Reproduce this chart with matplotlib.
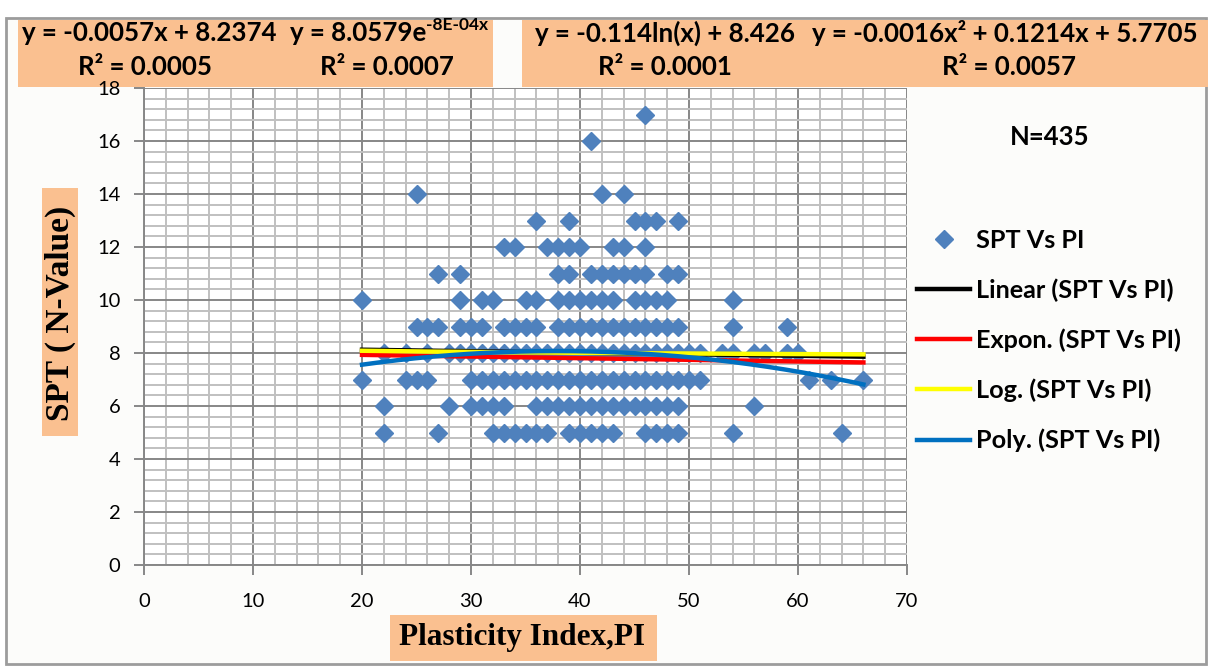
import matplotlib.pyplot as plt
import numpy as np
from matplotlib.patches import Rectangle

plt.rcParams['font.family'] = ['Lato', 'DejaVu Sans']

# plasticity index values of the samples at each SPT N-value
pi_n17 = [46]
pi_n16 = [41]
pi_n14 = [25, 42, 44]
pi_n13 = [36, 39, 45, 46, 47, 49]
pi_n12 = [33, 34, 37, 38, 39, 40, 43, 44, 46]
pi_n11 = [27, 29, 38, 39, 41, 42, 43, 44, 45, 46, 48, 49]
pi_n10 = [20, 29, 31, 32, 35, 36, 38, 39, 40, 41, 42, 43, 45, 46, 47, 48, 54]
pi_n9 = [25, 26, 27, 29, 30, 31, 33, 34, 35, 36, 38, 39, 40, 41, 42, 43, 44,
         45, 46, 47, 48, 49, 54, 59]
pi_n8 = [22, 24, 26, 28, 29, 30, 31, 32, 33, 34, 35, 36, 37, 38, 39, 40, 41,
         42, 43, 44, 45, 46, 47, 48, 49, 50, 51, 53, 54, 56, 57, 59, 60]
pi_n7 = [20, 24, 25, 26, 30, 31, 32, 33, 34, 35, 36, 37, 38, 39, 40, 41, 42,
         43, 44, 45, 46, 47, 48, 49, 50, 51, 61, 63, 66]
pi_n6 = [22, 28, 30, 31, 32, 33, 36, 37, 38, 39, 40, 41, 42, 43, 44, 45, 46,
         47, 48, 49, 56]
pi_n5 = [22, 27, 32, 33, 34, 35, 36, 37, 39, 40, 41, 42, 43, 46, 47, 48, 49,
         54, 64]

spt_levels = [17, 16, 14, 13, 12, 11, 10, 9, 8, 7, 6, 5]
pi_lists = [pi_n17, pi_n16, pi_n14, pi_n13, pi_n12, pi_n11, pi_n10, pi_n9,
            pi_n8, pi_n7, pi_n6, pi_n5]

# excel trend line coefficients
lin_coef = (-0.0057, 8.2374)
exp_coef = (8.0579, -8e-4)
log_coef = (-0.114, 8.426)
poly_coef = (-0.0016, 0.1214, 5.7705)

eq_labels = ["y = -0.0057x + 8.2374", "y = 8.0579e", "y = -0.114ln(x) + 8.426",
             "y = -0.0016x\u00b2 + 0.1214x + 5.7705"]
r2_labels = ["R\u00b2 = 0.0005", "R\u00b2 = 0.0007", "R\u00b2 = 0.0001",
             "R\u00b2 = 0.0057"]

pi = np.concatenate([np.array(l, float) for l in pi_lists])
spt = np.concatenate([np.full(len(l), v, float) for l, v in zip(pi_lists, spt_levels)])

W, H = 1212, 668
fig = plt.figure(figsize=(W / 100, H / 100), dpi=100)
fx = lambda p: p / W
fy = lambda p: 1 - p / H

def box(x0, y0, x1, y1, color, **kw):
    fig.patches.append(Rectangle((fx(x0), fy(y1)), fx(x1) - fx(x0), fy(y0) - fy(y1),
                                 transform=fig.transFigure, facecolor=color, **kw))

orange = '#FAC090'
box(6, 18, 1206, 664, '#FCFCFA', edgecolor='#9C9C9C', lw=2, zorder=-2)
box(18, 20, 493, 87, orange, edgecolor='none', zorder=-1)
box(522, 20, 1208, 87, orange, edgecolor='none', zorder=-1)
box(390, 615, 657, 661, orange, edgecolor='none', zorder=-1)
box(42, 188, 78, 436, orange, edgecolor='none', zorder=-1)

ax = fig.add_axes([fx(144), fy(565), fx(907) - fx(144), fy(88) - fy(565)])
ax.set_facecolor('white')
ax.set_xlim(0, 70)
ax.set_ylim(0, 18)
ax.set_xticks(range(0, 71, 10))
ax.set_yticks(range(0, 19, 2))
ax.set_xticks(np.arange(0, 71, 2), minor=True)
ax.set_yticks(np.arange(0, 18.01, 0.4), minor=True)
ax.grid(which='minor', color='#C0C0C0', lw=1.4)
ax.grid(which='major', color='#878787', lw=1.4)
ax.set_axisbelow(True)
ax.tick_params(which='minor', length=0)
ax.tick_params(which='major', length=7, width=1.4, color='#878787', labelsize=14.5)
ax.tick_params(axis='x', pad=13)
ax.tick_params(axis='y', pad=10)
for s in ['top', 'right']:
    ax.spines[s].set_visible(False)
for s in ['left', 'bottom']:
    ax.spines[s].set_color('#878787')
    ax.spines[s].set_linewidth(1.4)

ax.plot(pi, spt, 'D', color='#4F81BD', ms=9.5, ls='none', zorder=3, label='SPT Vs PI')

xs = np.linspace(pi.min(), pi.max(), 200)
ax.plot(xs, lin_coef[0] * xs + lin_coef[1], color='black', lw=3.2, zorder=4,
        label='Linear (SPT Vs PI)')
ax.plot(xs, exp_coef[0] * np.exp(exp_coef[1] * xs), color='#FF0000', lw=3.2, zorder=4,
        label='Expon. (SPT Vs PI)')
ax.plot(xs, log_coef[0] * np.log(xs) + log_coef[1], color='#FFFF00', lw=3.2, zorder=4,
        label='Log. (SPT Vs PI)')
ax.plot(xs, np.polyval(poly_coef, xs), color='#0070C0', lw=3.2, zorder=4,
        label='Poly. (SPT Vs PI)')

ax.legend(loc='upper left', bbox_to_anchor=(fx(917), fy(229)), bbox_transform=fig.transFigure,
          frameon=False, prop={'weight': 'bold', 'size': 18.2}, handlelength=2.1,
          handletextpad=0.25, labelspacing=1.05, borderaxespad=0, borderpad=0, numpoints=1)

fig.text(fx(1050), fy(137), 'N=435', ha='center', va='center', weight='bold', size=18.5)

fig.text(fx(522), fy(638), 'Plasticity Index,PI', ha='center', va='center',
         family='Liberation Serif', weight='bold', size=22.5, zorder=2)
fig.text(fx(60), fy(313), 'SPT ( N-Value)', ha='center', va='center', rotation=90,
         family='Liberation Serif', weight='bold', size=24, zorder=2)

eq_x = [22, 290, 535, 812]
r2_x = [78, 320, 598, 942]
eq_texts = []
for lab, x in zip(eq_labels, eq_x):
    eq_texts.append(fig.text(fx(x), fy(33), lab, ha='left', va='center',
                             weight='bold', size=18.6, zorder=2))
for lab, x in zip(r2_labels, r2_x):
    fig.text(fx(x), fy(67), lab, ha='left', va='center', weight='bold', size=18.6, zorder=2)

fig.canvas.draw()
bb = eq_texts[1].get_window_extent()
fig.text(bb.x1 / W, fy(25), '-8E-04x', ha='left', va='center', weight='bold', size=12.5, zorder=2)

fig.savefig('out.png', dpi=100)
